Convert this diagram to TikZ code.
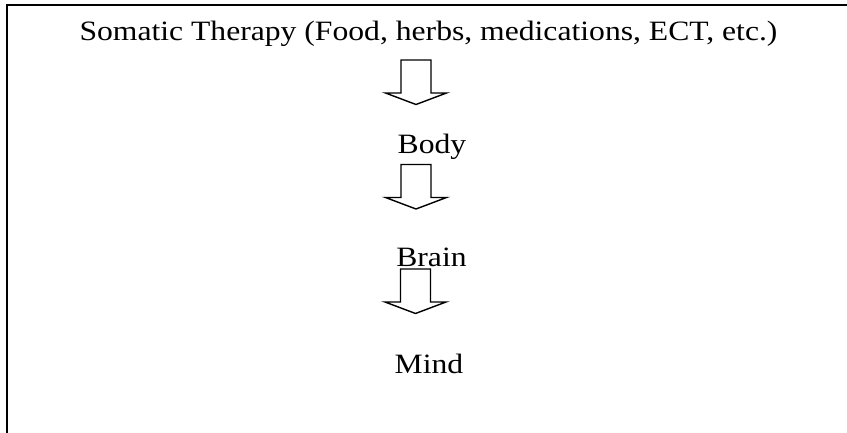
\documentclass[tikz,border=0pt]{standalone}
\usepackage{fontspec}
\setmainfont[FakeStretch=1.13]{Liberation Serif}
\usepackage{tikz}
\usetikzlibrary{positioning}

\begin{document}
\begin{tikzpicture}[x=1pt, y=-1pt,
  lbl/.style={font=\fontsize{28}{32}\selectfont, inner sep=0pt, anchor=base},
  blockarrow/.pic={\draw[line width=1.4pt, line join=miter]
    (-15,0) -- (15,0) -- (15,33) -- (30.5,33) -- (0,44.5)
    -- (-30.5,33) -- (-15,33) -- cycle;}]
  \useasboundingbox (0,0) rectangle (847,433);
  % frame
  \draw[line width=2.2pt] (847,5) -- (7,5) -- (7,433);
  \node[lbl] (somatic) at (428.5,41)
    {Somatic Therapy (Food, herbs, medications, ECT, etc.)};
  \node[lbl] (body) at (432,154) {Body};
  \node[lbl] (brain) at (431.5,266.5) {Brain};
  \node[lbl] (mind) at (429,373) {Mind};
  \pic at (416,60) {blockarrow};
  \pic at (416,164.5) {blockarrow};
  \pic at (415.5,269) {blockarrow};
\end{tikzpicture}
\end{document}
